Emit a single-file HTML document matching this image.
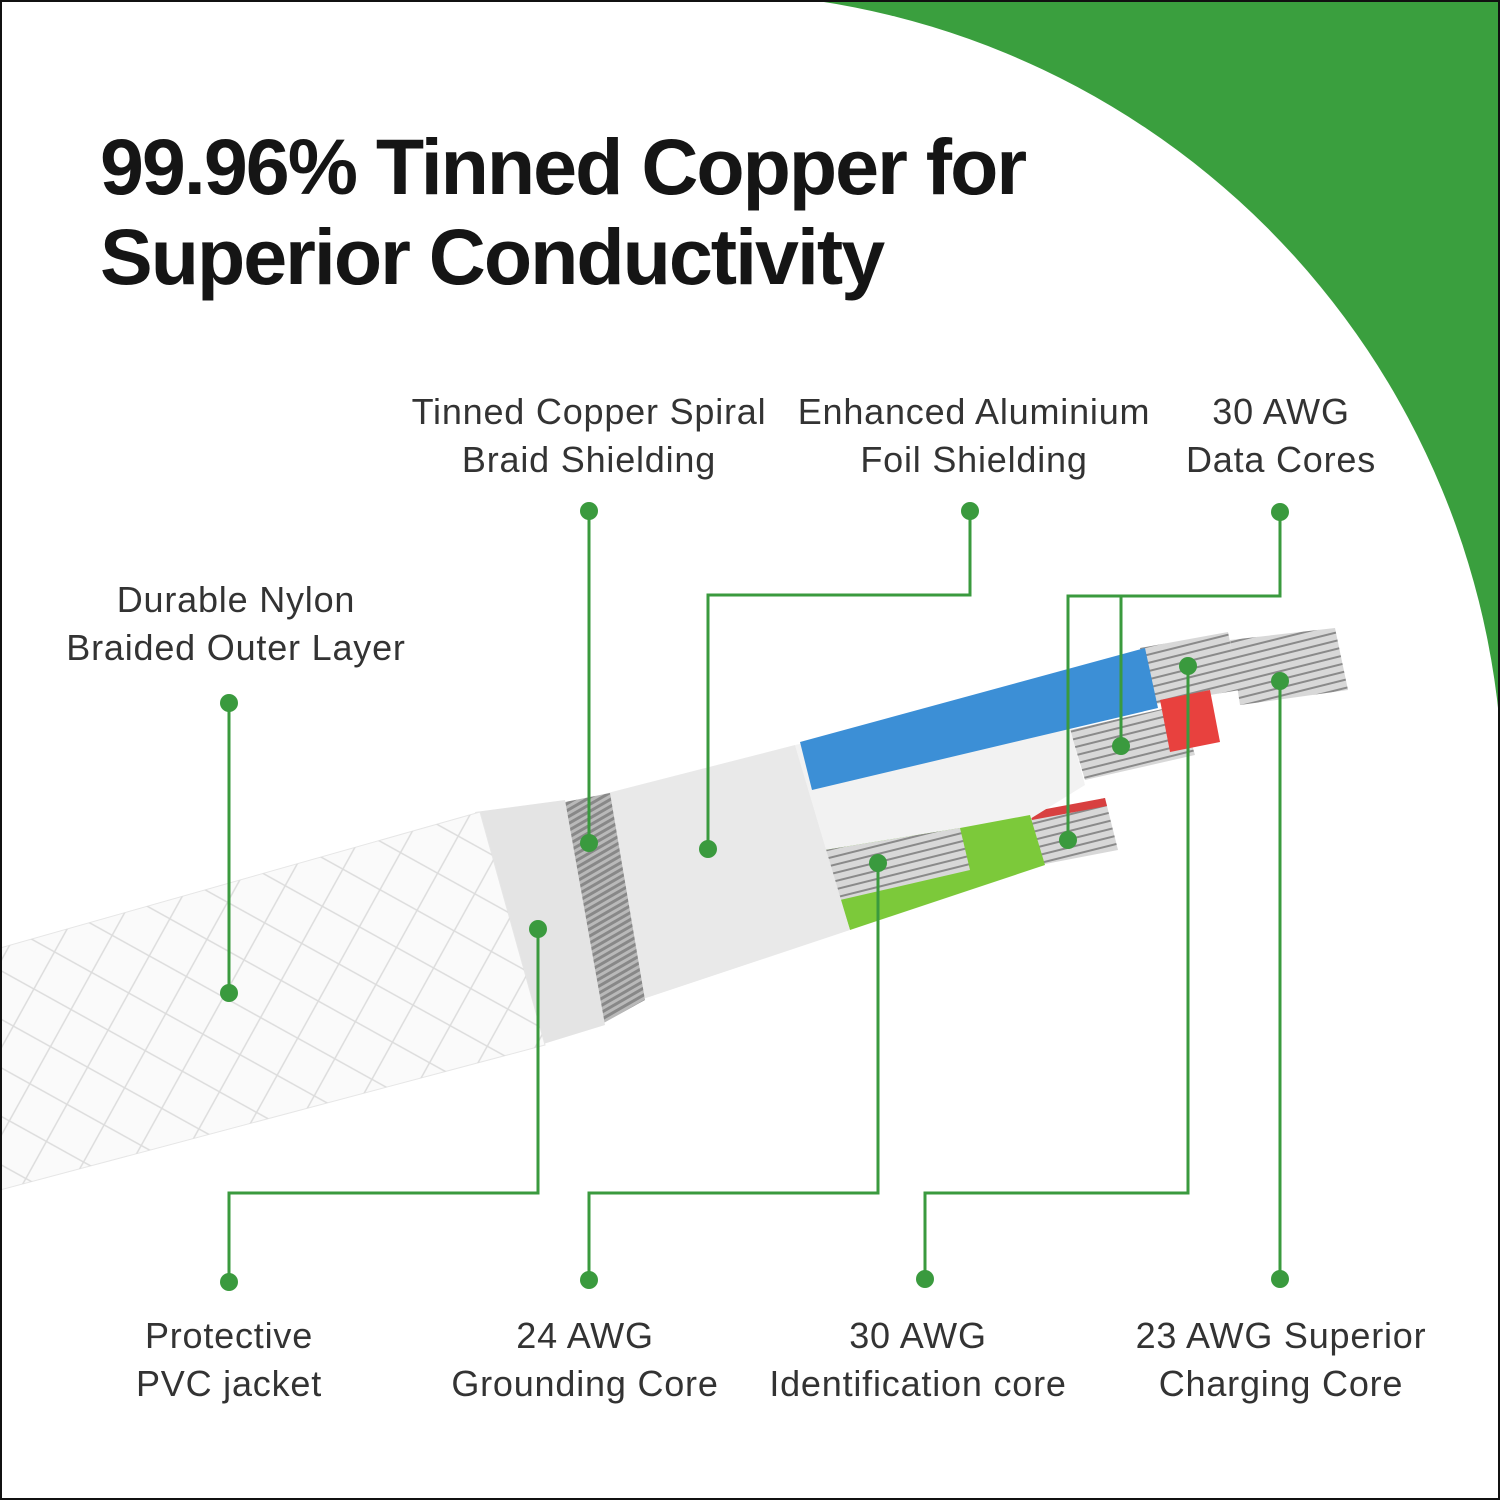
<!DOCTYPE html>
<html><head><meta charset="utf-8"><style>
html,body{margin:0;padding:0;}
body{width:1500px;height:1500px;position:relative;overflow:hidden;background:#fff;font-family:"Liberation Sans",sans-serif;}
.frame{position:absolute;left:0;top:0;width:1500px;height:1500px;border:2px solid #111;box-sizing:border-box;}
h1{position:absolute;left:100px;top:122px;margin:0;font-size:79px;line-height:90px;font-weight:bold;color:#151515;letter-spacing:-2px;white-space:nowrap;}
.lb{position:absolute;font-size:36px;line-height:48px;color:#333;text-align:center;white-space:nowrap;transform:translateX(-50%);letter-spacing:0.8px;}
</style></head><body>
<svg width="1500" height="1500" style="position:absolute;left:0;top:0">
<defs>
<pattern id="br" width="60" height="60" patternUnits="userSpaceOnUse" patternTransform="rotate(-16)">
<path d="M0 0 L60 60 M60 0 L0 60" stroke="#dcdcdc" stroke-width="1.5" fill="none"/>
</pattern>
<pattern id="cu" width="6" height="6" patternUnits="userSpaceOnUse" patternTransform="rotate(60)">
<rect width="6" height="6" fill="#b9b9b9"/><rect width="3" height="6" fill="#888"/>
</pattern>
<pattern id="st" width="8" height="8" patternUnits="userSpaceOnUse" patternTransform="rotate(-14)">
<rect width="8" height="8" fill="#d8d8d8"/><rect width="8" height="2" fill="#8a8a8a"/>
</pattern>
</defs>
<rect x="700" y="0" width="800" height="800" fill="#3a9f3e"/>
<circle cx="698" cy="797" r="805" fill="#fff"/>
<!-- wires strands -->
<polygon points="1140,648 1228,632 1240,690 1150,705" fill="url(#st)"/>
<polygon points="1230,640 1335,628 1348,690 1240,705" fill="url(#st)"/>
<polygon points="1070,730 1180,705 1195,755 1085,780" fill="url(#st)"/>
<polygon points="1160,700 1210,690 1220,742 1170,752" fill="#e8413e"/>
<polygon points="1030,815 1105,798 1118,850 1040,865" fill="url(#st)"/>
<polygon points="1030,812 1105,798 1107,806 1032,820" fill="#d84040"/>
<polygon points="795,745 1060,690 1085,785 850,930" fill="#f2f2f2"/>
<polygon points="800,742 1145,648 1158,708 812,790" fill="#3c8fd6"/>
<polygon points="825,850 960,828 1030,815 1045,865 850,930" fill="#7cc93a"/>
<polygon points="825,850 960,828 970,870 840,900" fill="url(#st)"/>
<polygon points="600,795 795,745 850,930 640,1000" fill="#e9e9e9"/>
<polygon points="560,803 610,793 645,1000 600,1025" fill="url(#cu)"/>
<polygon points="475,812 565,800 605,1025 540,1045" fill="#e4e4e4"/>
<polygon points="0,948 480,812 545,1045 0,1190" fill="#fafafa" stroke="#e6e6e6"/>
<polygon points="0,948 480,812 545,1045 0,1190" fill="url(#br)"/>
<g stroke="#3a9a3e" stroke-width="3" fill="none">
<path d="M229 703 V993"/><path d="M589 511 V843"/>
<path d="M970 511 V595 H708 V849"/>
<path d="M1280 512 V596 H1068 V840"/><path d="M1121 596 V746"/>
<path d="M538 929 V1193 H229 V1282"/>
<path d="M878 863 V1193 H589 V1280"/>
<path d="M1188 666 V1193 H925 V1279"/>
<path d="M1280 681 V1279"/>
</g>
<g fill="#3a9a3e">
<circle cx="229" cy="703" r="9"/><circle cx="229" cy="993" r="9"/>
<circle cx="589" cy="511" r="9"/><circle cx="589" cy="843" r="9"/>
<circle cx="970" cy="511" r="9"/><circle cx="708" cy="849" r="9"/>
<circle cx="1280" cy="512" r="9"/><circle cx="1068" cy="840" r="9"/><circle cx="1121" cy="746" r="9"/>
<circle cx="538" cy="929" r="9"/><circle cx="229" cy="1282" r="9"/>
<circle cx="878" cy="863" r="9"/><circle cx="589" cy="1280" r="9"/>
<circle cx="1188" cy="666" r="9"/><circle cx="925" cy="1279" r="9"/>
<circle cx="1280" cy="681" r="9"/><circle cx="1280" cy="1279" r="9"/>
</g>
</svg>
<div class="frame"></div>
<h1>99.96% Tinned Copper for<br>Superior Conductivity</h1>
<div class="lb" style="left:589px;top:388px">Tinned Copper Spiral<br>Braid Shielding</div>
<div class="lb" style="left:974px;top:388px">Enhanced Aluminium<br>Foil Shielding</div>
<div class="lb" style="left:1281px;top:388px">30 AWG<br>Data Cores</div>
<div class="lb" style="left:236px;top:576px">Durable Nylon<br>Braided Outer Layer</div>
<div class="lb" style="left:229px;top:1312px">Protective<br>PVC jacket</div>
<div class="lb" style="left:585px;top:1312px">24 AWG<br>Grounding Core</div>
<div class="lb" style="left:918px;top:1312px">30 AWG<br>Identification core</div>
<div class="lb" style="left:1281px;top:1312px">23 AWG Superior<br>Charging Core</div>
</body></html>
